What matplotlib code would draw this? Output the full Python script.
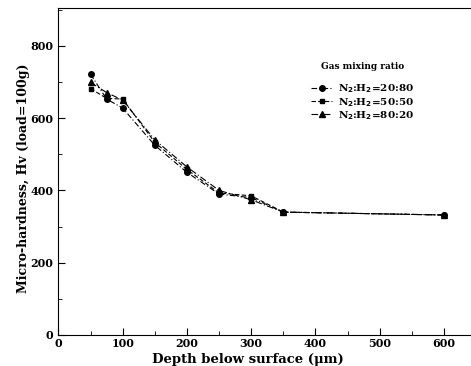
import numpy as np
import matplotlib.pyplot as plt
from matplotlib.ticker import MultipleLocator

# datos
depth = [50, 75, 100, 150, 200, 250, 300, 350, 600]
hv_20_80 = [722, 653, 628, 525, 450, 390, 380, 340, 332]
hv_50_50 = [682, 655, 653, 533, 458, 393, 385, 340, 332]
hv_80_20 = [699, 671, 650, 540, 465, 400, 374, 340, 332]
labels = ['N$_2$:H$_2$=20:80', 'N$_2$:H$_2$=50:50', 'N$_2$:H$_2$=80:20']

plt.rcParams['font.family'] = 'DejaVu Serif'
plt.rcParams['font.weight'] = 'bold'

fig = plt.figure(figsize=(4.71, 3.66), dpi=100)
ax = fig.add_axes([0.124, 0.085, 0.876, 0.893])

ax.plot(depth, hv_20_80, color='k', lw=0.8, ls=(0, (5, 2, 1, 2)), marker='o', ms=4, label=labels[0])
ax.plot(depth, hv_50_50, color='k', lw=0.8, ls=(0, (4, 2)), marker='s', ms=3.5, label=labels[1])
ax.plot(depth, hv_80_20, color='k', lw=0.8, ls=(0, (6, 2, 1, 2)), marker='^', ms=4, label=labels[2])

ax.set_xlim(0, 642)
ax.set_ylim(0, 905)
ax.xaxis.set_major_locator(MultipleLocator(100))
ax.xaxis.set_minor_locator(MultipleLocator(50))
ax.yaxis.set_major_locator(MultipleLocator(200))
ax.yaxis.set_minor_locator(MultipleLocator(100))
ax.tick_params(which='both', direction='in', top=False, right=False, labelsize=8)
ax.tick_params(axis='x', pad=2)
ax.tick_params(which='major', length=5)
ax.tick_params(which='minor', length=3)
ax.spines['right'].set_visible(False)

ax.set_xlabel('Depth below surface (μm)', fontsize=9.5, fontweight='bold')
ax.xaxis.set_label_coords(0.46, -0.055)
ax.set_ylabel('Micro-hardness, Hv (load=100g)', fontsize=9, fontweight='bold')
ax.yaxis.set_label_coords(-0.07, 0.48)

leg = ax.legend(title='Gas mixing ratio', frameon=False, fontsize=7.5, loc='upper left',
                bbox_to_anchor=(0.6, 0.85), handlelength=2.0, labelspacing=0.05,
                handletextpad=0.6, borderpad=0)
leg.get_title().set_fontsize(6.5)
leg.get_title().set_fontweight('bold')
leg._legend_box.sep = 8

plt.savefig('out.png', dpi=100)
